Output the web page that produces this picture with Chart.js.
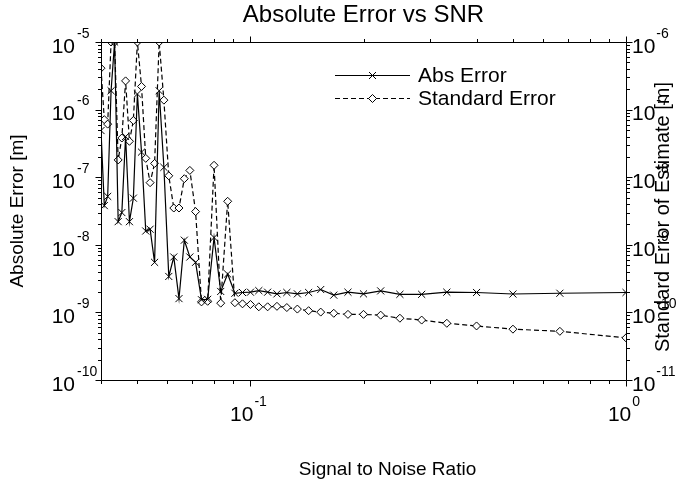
<!DOCTYPE html>
<html>
<head>
<meta charset="utf-8">
<title>Absolute Error vs SNR</title>
<script src="https://cdn.jsdelivr.net/npm/chart.js@4.4.1/dist/chart.umd.min.js"></script>
<style>
  html, body { margin: 0; padding: 0; background: #fff; }
  canvas { display: block; }
</style>
</head>
<body>
<canvas id="chart" width="676" height="481"></canvas>
<script>
// signal to noise ratio (x axis)
const snr = [
  0.04, 0.04082, 0.04167, 0.04255, 0.04348, 0.04444, 0.04545, 0.04651, 0.04762, 0.04878,
  0.05, 0.05128, 0.05263, 0.05405, 0.05556, 0.05714, 0.05882, 0.06061, 0.0625, 0.06452,
  0.06667, 0.06897, 0.07143, 0.07407, 0.07692, 0.08, 0.08333, 0.08696, 0.09091, 0.09524,
  0.1, 0.10526, 0.11111, 0.11765, 0.125, 0.13333, 0.14286, 0.15385, 0.16667, 0.18182,
  0.2, 0.22222, 0.25, 0.28571, 0.33333, 0.4, 0.5, 0.66667, 1
];

// absolute error [m] (left axis)
const absError = [
  4.9e-7, 3.8e-8, 5.2e-8, 1.9e-6, 1e-5, 2.2e-8, 3.0e-8, 4e-7, 2.2e-8, 4.9e-8,
  1.7e-6, 2.35e-7, 1.6e-8, 1.7e-8, 5.5e-9, 1.9e-6, 1.4e-7, 3.4e-9, 6.6e-9, 1.6e-9,
  1.17e-8, 6.6e-9, 5.5e-9, 1.54e-9, 1.56e-9, 1.28e-8, 2.04e-9, 3.7e-9, 1.92e-9, 1.97e-9,
  1.99e-9, 2.1e-9, 1.99e-9, 1.88e-9, 1.97e-9, 1.88e-9, 1.97e-9, 2.18e-9, 1.8e-9, 1.99e-9,
  1.88e-9, 2.08e-9, 1.85e-9, 1.85e-9, 1.99e-9, 1.97e-9, 1.87e-9, 1.92e-9, 1.97e-9
];

// standard error of estimate [m] (right axis)
const stdError = [
  4.1e-7, 7.1e-8, 6.1e-8, 1e-6, 1e-6, 1.8e-8, 3.8e-8, 2.66e-7, 3.4e-8, 6.9e-8,
  1e-6, 2.2e-7, 1.9e-8, 8.3e-9, 1.6e-8, 1e-6, 1.38e-7, 1.05e-8, 3.5e-9, 3.5e-9,
  9.5e-9, 1.26e-8, 3.1e-9, 1.43e-10, 1.46e-10, 1.5e-8, 1.37e-10, 4.4e-9, 1.39e-10, 1.34e-10,
  1.31e-10, 1.21e-10, 1.21e-10, 1.23e-10, 1.18e-10, 1.12e-10, 1.06e-10, 1.01e-10, 9.7e-11, 9.35e-11,
  9.35e-11, 9.1e-11, 8.2e-11, 7.7e-11, 6.9e-11, 6.3e-11, 5.65e-11, 5.25e-11, 4.2e-11
];

// tick labels (powers of ten)
const xTickExponents = [-1, 0];
const yLeftExponents = [-10, -9, -8, -7, -6, -5];
const yRightExponents = [-11, -10, -9, -8, -7, -6];
const minorSteps = [2, 3, 4, 5, 6, 7, 8, 9];

const legendLabels = ['Abs Error', 'Standard Error'];

const FONT = "'Liberation Sans', Arial, sans-serif";

function drawMarker(ctx, style, x, y) {
  ctx.beginPath();
  if (style === 'cross') {
    ctx.moveTo(x - 3.5, y - 3.5); ctx.lineTo(x + 3.5, y + 3.5);
    ctx.moveTo(x - 3.5, y + 3.5); ctx.lineTo(x + 3.5, y - 3.5);
    ctx.stroke();
  } else {
    ctx.moveTo(x - 4, y); ctx.lineTo(x, y - 4); ctx.lineTo(x + 4, y); ctx.lineTo(x, y + 4);
    ctx.closePath();
    ctx.fillStyle = '#fff';
    ctx.fill();
    ctx.stroke();
  }
}

// box, outward ticks, 10^n labels, axis titles and legend
const matlabAxes = {
  id: 'matlabAxes',
  afterDraw(chart) {
    const ctx = chart.ctx;
    const a = chart.chartArea;
    const xs = chart.scales.x, yl = chart.scales.y;
    const L = Math.round(a.left) + 0.5, R = Math.round(a.right) + 0.5;
    const T = Math.round(a.top) + 0.5, B = Math.round(a.bottom) + 0.5;

    ctx.save();
    ctx.strokeStyle = '#000';
    ctx.fillStyle = '#000';
    ctx.lineWidth = 1;
    ctx.setLineDash([]);

    ctx.beginPath();
    ctx.moveTo(L, T); ctx.lineTo(R, T); ctx.lineTo(R, B); ctx.lineTo(L, B); ctx.closePath();
    ctx.stroke();

    const line = (x1, y1, x2, y2) => { ctx.beginPath(); ctx.moveTo(x1, y1); ctx.lineTo(x2, y2); ctx.stroke(); };

    // x ticks, top and bottom
    const xDecades = [-2, -1, 0];
    xDecades.forEach(d => {
      [1].concat(minorSteps).forEach(m => {
        const v = m * Math.pow(10, d);
        if (v < xs.min * 0.999 || v > xs.max * 1.001) return;
        const px = Math.round(xs.getPixelForValue(v)) + 0.5;
        const len = m === 1 ? 6 : 3.5;
        line(px, B, px, B + len);
        line(px, T, px, T - len);
      });
    });

    // y ticks, left and right
    yLeftExponents.forEach((e, i) => {
      [1].concat(minorSteps).forEach(m => {
        if (i === yLeftExponents.length - 1 && m > 1) return;
        const py = Math.round(yl.getPixelForValue(m * Math.pow(10, e))) + 0.5;
        const len = m === 1 ? 6 : 3.5;
        line(L, py, L - len, py);
        line(R, py, R + len, py);
      });
    });

    // power labels
    const big = '21px ' + FONT, small = '14px ' + FONT;
    ctx.textBaseline = 'middle';
    const measure = (t, f) => { ctx.font = f; return ctx.measureText(t).width; };
    const w10 = measure('10', big);

    yLeftExponents.forEach(e => {
      const py = yl.getPixelForValue(Math.pow(10, e));
      ctx.font = big; ctx.textAlign = 'right';
      ctx.fillText('10', a.left - 26, py + 5);
      ctx.font = small; ctx.textAlign = 'left';
      ctx.fillText(String(e), a.left - 24, py - 8);
    });

    yRightExponents.forEach((e, i) => {
      const py = yl.getPixelForValue(Math.pow(10, yLeftExponents[i]));
      ctx.font = big; ctx.textAlign = 'left';
      ctx.fillText('10', a.right + 6, py + 5);
      ctx.font = small;
      ctx.fillText(String(e), a.right + 7 + w10, py - 8);
    });

    xTickExponents.forEach(e => {
      const px = xs.getPixelForValue(Math.pow(10, e));
      const we = measure(String(e), small);
      const start = px - (w10 + 1 + we) / 2 - 2;
      ctx.font = big; ctx.textAlign = 'left';
      ctx.fillText('10', start, a.bottom + 35);
      ctx.font = small;
      ctx.fillText(String(e), start + w10 + 1, a.bottom + 22);
    });

    // x axis title
    ctx.font = '19px ' + FONT;
    ctx.textAlign = 'center';
    ctx.fillText('Signal to Noise Ratio', (a.left + a.right) / 2 + 24, a.bottom + 90);

    // right axis title, reading bottom to top
    ctx.save();
    ctx.translate(a.right + 37, (a.top + a.bottom) / 2 + 6);
    ctx.rotate(-Math.PI / 2);
    ctx.font = '20px ' + FONT;
    ctx.textAlign = 'center';
    ctx.fillText('Standard Error of Estimate [m]', 0, 0);
    ctx.restore();

    // legend
    const lx1 = 335, lx2 = 410;
    const rows = [a.top + 33, a.top + 56];
    rows.forEach((ly, i) => {
      ctx.setLineDash(i === 0 ? [] : [5, 3]);
      line(lx1, ly + 0.5, lx2, ly + 0.5);
      ctx.setLineDash([]);
      drawMarker(ctx, i === 0 ? 'cross' : 'diamond', (lx1 + lx2) / 2, ly + 0.5);
      ctx.fillStyle = '#000';
      ctx.font = '21px ' + FONT;
      ctx.textAlign = 'left';
      ctx.fillText(legendLabels[i], lx2 + 8, ly + 1);
    });

    ctx.restore();
  }
};

const hiddenAxis = {
  grid: { display: false, drawTicks: false },
  border: { display: false },
  ticks: { display: false }
};

new Chart(document.getElementById('chart'), {
  type: 'line',
  data: {
    datasets: [
      {
        label: legendLabels[0],
        data: snr.map((x, i) => ({ x: x, y: absError[i] })),
        yAxisID: 'y',
        borderColor: '#000',
        borderWidth: 1.2,
        pointStyle: 'crossRot',
        pointRadius: 5,
        pointBorderColor: '#000',
        pointBorderWidth: 1,
        fill: false,
        tension: 0
      },
      {
        label: legendLabels[1],
        data: snr.map((x, i) => ({ x: x, y: stdError[i] })),
        yAxisID: 'y2',
        borderColor: '#000',
        borderWidth: 1.2,
        borderDash: [5, 3],
        pointStyle: 'rectRot',
        pointRadius: 4,
        pointBorderColor: '#000',
        pointBackgroundColor: '#fff',
        pointBorderWidth: 1,
        fill: false,
        tension: 0
      }
    ]
  },
  options: {
    responsive: false,
    animation: false,
    devicePixelRatio: 1,
    layout: { padding: 0 },
    plugins: {
      legend: { display: false },
      tooltip: { enabled: false },
      title: {
        display: true,
        fullSize: false,
        text: 'Absolute Error vs SNR',
        color: '#000',
        font: { family: FONT, size: 24, weight: 'normal' },
        padding: { top: 1, bottom: 12.2 }
      }
    },
    scales: {
      x: Object.assign({}, hiddenAxis, {
        type: 'logarithmic',
        position: 'bottom',
        min: 0.04,
        max: 1,
        afterFit: s => { s.height = 101; }
      }),
      y: Object.assign({}, hiddenAxis, {
        type: 'logarithmic',
        position: 'left',
        min: 1e-10,
        max: 1e-5,
        title: { display: true, text: 'Absolute Error [m]', color: '#000',
                 font: { family: FONT, size: 19 }, padding: { top: 6, bottom: 0 } },
        afterFit: s => { s.width = 101; }
      }),
      y2: Object.assign({}, hiddenAxis, {
        type: 'logarithmic',
        position: 'right',
        min: 1e-11,
        max: 1e-6,
        afterFit: s => { s.width = 50; }
      })
    }
  },
  plugins: [matlabAxes]
});
</script>
</body>
</html>
